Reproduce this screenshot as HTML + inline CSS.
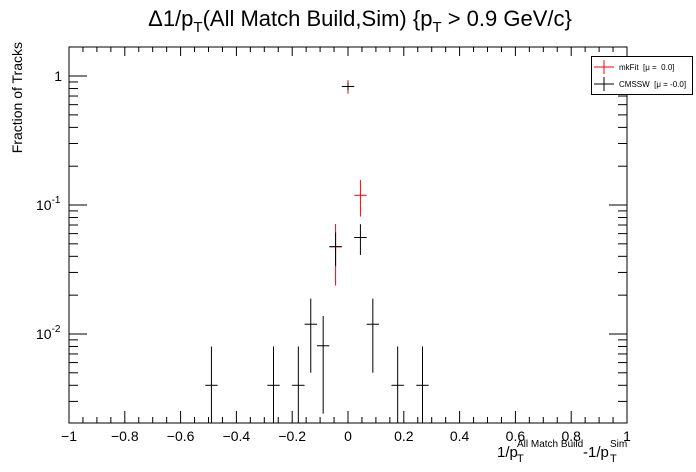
<!DOCTYPE html>
<html><head><meta charset="utf-8"><style>
body{margin:0;background:#fff;}
svg{display:block;font-family:"Liberation Sans",sans-serif;}
</style></head><body>
<svg id="c" width="696" height="472">
<text x="360" y="26" text-anchor="middle" font-size="22">Δ1/p<tspan font-size="15" dy="6">T</tspan><tspan dy="-6">(All Match Build,Sim) {p</tspan><tspan font-size="15" dy="6">T</tspan><tspan dy="-6"> &gt; 0.9 GeV/c}</tspan></text>
<text transform="translate(22,42) rotate(-90)" text-anchor="end" font-size="14">Fraction of Tracks</text>
<g font-size="15">
<text x="497" y="457">1/p</text><text x="517" y="462" font-size="11">T</text><text x="517" y="447" font-size="10">All Match Build</text>
<text x="583" y="457">-1/p</text><text x="610" y="462" font-size="11">T</text><text x="610" y="447" font-size="10">Sim</text>
</g>
<g id="axes"></g>
<g id="marks"></g>
<rect x="69" y="47" width="558" height="376" fill="none" stroke="#000" stroke-width="1"/>
<g>
<rect x="591.5" y="56.5" width="101" height="38" fill="#fff" stroke="#000"/>
<g><line x1="594" y1="67" x2="614" y2="67" stroke="red"/><line x1="604" y1="60" x2="604" y2="74" stroke="red"/><text x="619" y="70" font-size="8" xml:space="preserve">mkFit  [μ =  0.0]</text></g>
<g><line x1="594" y1="84" x2="614" y2="84" stroke="#000"/><line x1="604" y1="77" x2="604" y2="91" stroke="#000"/><text x="619" y="87" font-size="8" xml:space="preserve">CMSSW  [μ = -0.0]</text></g>
</g>
</svg>
<script>
const binWidth = 0.0445;
const cmsswBins = [-11,-6,-4,-3,-2,-1,0,1,2,4,6];
const cmsswValues = [0.004,0.004,0.004,0.0119,0.0081,0.0475,0.83,0.056,0.0119,0.004,0.004];
const cmsswN = 250;
const mkfitBins = [-1,0,1];
const mkfitValues = [0.0475,0.83,0.119];
const mkfitN = 84;
const xTicks = ["−1","−0.8","−0.6","−0.4","−0.2","0","0.2","0.4","0.6","0.8","1"];
const yTicks = ["10^-2","10^-1","1"];

const L=69,R=627,T=47,B=423;
const xmin=-1,xmax=1,lmin=Math.log10(0.00204),lmax=Math.log10(1.68);
const X=v=>L+(v-xmin)/(xmax-xmin)*(R-L);
const Y=v=>{const l=Math.log10(Math.max(v,1e-9));return B-(l-lmin)/(lmax-lmin)*(B-T);};
const NS='http://www.w3.org/2000/svg';
function mk(tag,attrs,parent){const e=document.createElementNS(NS,tag);for(const k in attrs)e.setAttribute(k,attrs[k]);parent.appendChild(e);return e;}
const axes=document.getElementById('axes'),marks=document.getElementById('marks');
function ln(x1,y1,x2,y2,p,col){return mk('line',{x1,y1,x2,y2,stroke:col||'#000','stroke-width':1},p||axes);}
for(let i=0;i<=40;i++){const v=-1+i*0.05;const x=X(v);const maj=i%4===0;
 const t1=ln(x,B,x,B-(maj?12:6));
 
 
 const t2=ln(x,T,x,T+(maj?9:5));
 
 }
xTicks.forEach((s,i)=>{const v=-1+i*0.2;const t=mk('text',{x:X(v),y:441,'text-anchor':'middle','font-size':14},axes);t.textContent=s;
 
 });
for(let d=-3;d<=0;d++){for(let m=1;m<=9;m++){const v=m*Math.pow(10,d);const y=Y(v);if(y<T||y>B)continue;const maj=m===1;
 const a=ln(L,y,L+(maj?18:9),y);
 
 
 const b=ln(R,y,R-(maj?18:9),y);
 
 }}
yTicks.forEach(s=>{const parts=s.split('^');const e=parts[1];const v=e?Math.pow(10,+e):1;const y=Y(v);
 const t=mk('text',{x:62,y:y+5,'text-anchor':'end','font-size':14},axes);
 
 
 if(e){t.setAttribute('text-anchor','start');t.setAttribute('x',36);t.textContent='10';const sp=mk('tspan',{dy:-7,'font-size':10},t);sp.textContent=e;}else t.textContent='1';});
function series(bins,vals,N,col,name){
 const g=mk('g',{'clip-path':'url(#clip)'},marks);
 
 
 bins.forEach((b,i)=>{const v=vals[i];const c=b*binWidth;const err=Math.sqrt(v/N);
  const x=X(c),y=Y(v);
  const h=ln(X(c-binWidth/2),y,X(c+binWidth/2),y,g,col);
  
  
  const vl=ln(x,Math.max(T,Y(v+err)),x,Math.min(B,Y(v-err)),g,col);
  
  });}
const svg=document.getElementById('c');
const defs=mk('defs',{},svg);const cp=mk('clipPath',{id:'clip'},defs);mk('rect',{x:L,y:T,width:R-L,height:B-T},cp);
series(mkfitBins,mkfitValues,mkfitN,'red','mkfit-series');
series(cmsswBins,cmsswValues,cmsswN,'#000','cmssw-series');
</script>
</body></html>
